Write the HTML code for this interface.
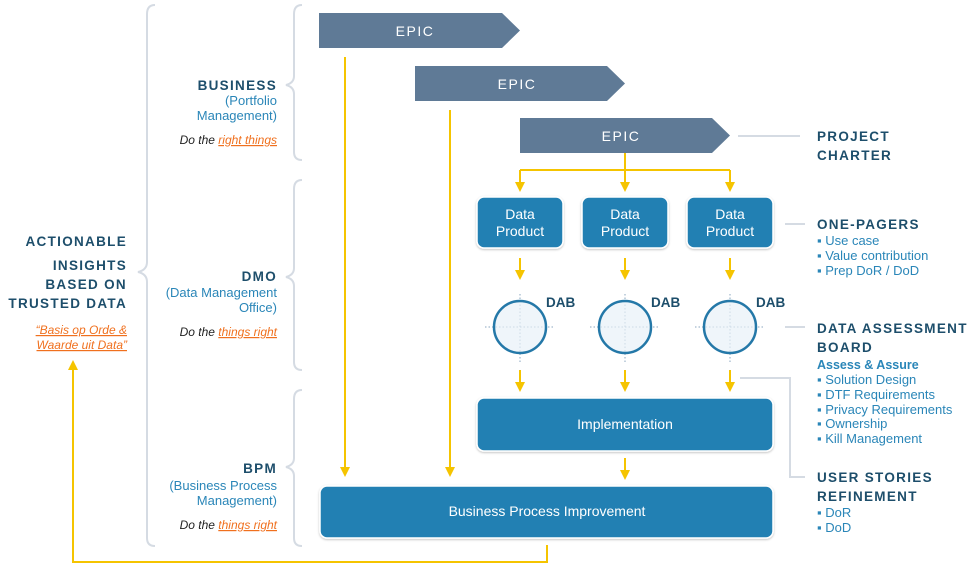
<!DOCTYPE html>
<html><head><meta charset="utf-8"><style>
body{margin:0;background:#fff}
svg{display:block;font-family:"Liberation Sans",sans-serif}
.h{fill:#1d4e6b;font-weight:bold;letter-spacing:1.3px;font-size:13.5px}
.b{fill:#2a86b8;font-size:13px}
.i{font-style:italic;font-size:12px;fill:#222}
.o{fill:#f0701e;text-decoration:underline}
.w{fill:#fff;font-size:14px}
</style></head><body>
<svg width="969" height="568" viewBox="0 0 969 568">
<defs><marker id="a" markerWidth="10" markerHeight="10" refX="5" refY="5" orient="auto" markerUnits="userSpaceOnUse"><path d="M0,0 L10,5 L0,10 z" fill="#f5c400"/></marker>
<filter id="s"><feDropShadow dx="0" dy="1" stdDeviation="1" flood-color="#000" flood-opacity="0.25"/></filter></defs>
<g fill="none" stroke="#d5dbe3" stroke-width="2">
<path d="M155,5 Q147,5 147,14 L147,262 Q147,270 138,272 Q147,274 147,282 L147,538 Q147,546 155,546"/>
<path d="M302,5 Q294,5 294,14 L294,76 Q294,83 286,85 Q294,87 294,94 L294,152 Q294,160 302,160"/>
<path d="M302,180 Q294,180 294,189 L294,268 Q294,275 286,277 Q294,279 294,286 L294,362 Q294,370 302,370"/>
<path d="M302,390 Q294,390 294,399 L294,458 Q294,465 286,467 Q294,469 294,476 L294,538 Q294,546 302,546"/>
<path d="M738,136 H800 M785,224 H805 M785,327 H805 M740,378 H790 V477 H805"/>
</g>
<g fill="#5f7a96">
<path d="M319,13 H502 L520,30.5 L502,48 H319z"/>
<path d="M415,66 H607 L625,83.5 L607,101 H415z"/>
<path d="M520,118 H712 L730,135.5 L712,153 H520z"/>
</g>
<g fill="#fff" font-size="14" letter-spacing="1.5" text-anchor="middle">
<text x="415" y="36">EPIC</text><text x="517" y="89">EPIC</text><text x="621" y="141">EPIC</text>
</g>
<g stroke="#f5c400" stroke-width="2" fill="none">
<path d="M345,57 V472" marker-end="url(#a)"/>
<path d="M450,110 V472" marker-end="url(#a)"/>
<path d="M520,170 H730 M625,153 V170"/>
<path d="M520,170 V187" marker-end="url(#a)"/><path d="M625,170 V187" marker-end="url(#a)"/><path d="M730,170 V187" marker-end="url(#a)"/>
<path d="M520,258 V275" marker-end="url(#a)"/><path d="M625,258 V275" marker-end="url(#a)"/><path d="M730,258 V275" marker-end="url(#a)"/>
<path d="M520,370 V387" marker-end="url(#a)"/><path d="M625,370 V387" marker-end="url(#a)"/><path d="M730,370 V387" marker-end="url(#a)"/>
<path d="M625,458 V475" marker-end="url(#a)"/>
<path d="M547,545 V562 H73 V365" marker-end="url(#a)"/>
</g>
<g fill="#2080b3" stroke="#fff" stroke-width="1.5" filter="url(#s)">
<rect x="477" y="197" width="86" height="51" rx="7"/>
<rect x="582" y="197" width="86" height="51" rx="7"/>
<rect x="687" y="197" width="86" height="51" rx="7"/>
<rect x="477" y="398" width="296" height="53" rx="7"/>
<rect x="320" y="486" width="453" height="52" rx="7"/>
</g>
<g class="w" text-anchor="middle">
<text x="520" y="219">Data</text><text x="520" y="236">Product</text>
<text x="625" y="219">Data</text><text x="625" y="236">Product</text>
<text x="730" y="219">Data</text><text x="730" y="236">Product</text>
<text x="625" y="429">Implementation</text>
<text x="547" y="516">Business Process Improvement</text>
</g>
<g>
<g stroke="#8aa6bf" stroke-width="1" stroke-dasharray="1.5,2">
<path d="M520,294 V362 M485,327 H555 M625,294 V362 M590,327 H660 M730,294 V362 M695,327 H765"/>
</g>
<g fill="#e8f1f8" fill-opacity="0.7" stroke="#2478a8" stroke-width="2.5">
<circle cx="520" cy="327" r="26"/><circle cx="625" cy="327" r="26"/><circle cx="730" cy="327" r="26"/>
</g>
<g fill="#1d4e6b" font-weight="bold" font-size="13.5">
<text x="546" y="307">DAB</text><text x="651" y="307">DAB</text><text x="756" y="307">DAB</text>
</g>
</g>
<g text-anchor="end">
<text class="h" x="127" y="246">ACTIONABLE</text>
<text class="h" x="127" y="270">INSIGHTS</text>
<text class="h" x="127" y="289">BASED ON</text>
<text class="h" x="127" y="308">TRUSTED DATA</text>
<text class="i o" x="127" y="334">“Basis op Orde &amp;</text>
<text class="i o" x="127" y="349">Waarde uit Data”</text>
<text class="h" x="277" y="90">BUSINESS</text>
<text class="b" x="277" y="105">(Portfolio</text>
<text class="b" x="277" y="120">Management)</text>
<text class="i" x="277" y="144">Do the <tspan class="o">right things</tspan></text>
<text class="h" x="277" y="281">DMO</text>
<text class="b" x="277" y="297">(Data Management</text>
<text class="b" x="277" y="312">Office)</text>
<text class="i" x="277" y="336">Do the <tspan class="o">things right</tspan></text>
<text class="h" x="277" y="473">BPM</text>
<text class="b" x="277" y="490">(Business Process</text>
<text class="b" x="277" y="505">Management)</text>
<text class="i" x="277" y="529">Do the <tspan class="o">things right</tspan></text>
</g>
<g>
<text class="h" x="817" y="141">PROJECT</text>
<text class="h" x="817" y="160">CHARTER</text>
<text class="h" x="817" y="229">ONE-PAGERS</text>
<text class="b" x="817" y="245">▪ Use case</text>
<text class="b" x="817" y="260">▪ Value contribution</text>
<text class="b" x="817" y="275">▪ Prep DoR / DoD</text>
<text class="h" x="817" y="333" letter-spacing="1.1">DATA ASSESSMENT</text>
<text class="h" x="817" y="352">BOARD</text>
<text x="817" y="369" fill="#2a86b8" font-weight="bold" font-size="12.5">Assess &amp; Assure</text>
<text class="b" x="817" y="384">▪ Solution Design</text>
<text class="b" x="817" y="399">▪ DTF Requirements</text>
<text class="b" x="817" y="414">▪ Privacy Requirements</text>
<text class="b" x="817" y="428">▪ Ownership</text>
<text class="b" x="817" y="443">▪ Kill Management</text>
<text class="h" x="817" y="482">USER STORIES</text>
<text class="h" x="817" y="501">REFINEMENT</text>
<text class="b" x="817" y="517">▪ DoR</text>
<text class="b" x="817" y="532">▪ DoD</text>
</g>
</svg>
</body></html>
